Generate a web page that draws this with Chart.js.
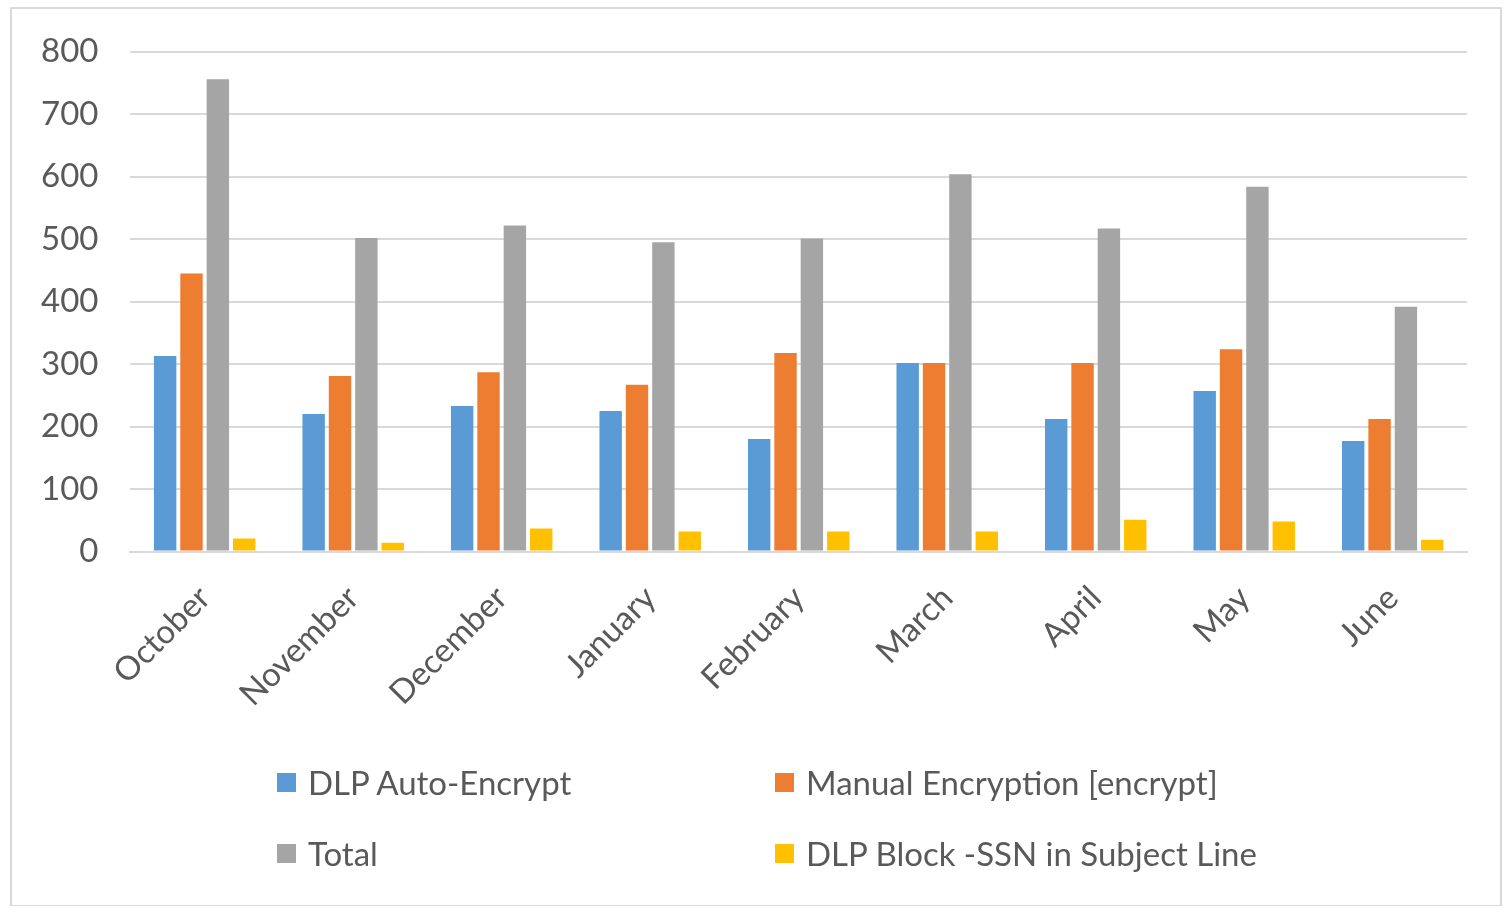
<!DOCTYPE html>
<html>
<head>
<meta charset="utf-8">
<script src="https://cdn.jsdelivr.net/npm/chart.js@4/dist/chart.umd.min.js"></script>
<style>
  html, body { margin: 0; padding: 0; background: #fff; }
  body { width: 1505px; height: 906px; position: relative; overflow: hidden; font-family: Lato, "Open Sans", sans-serif; }
  #frame { position: absolute; left: 10px; top: 7px; width: 1492px; height: 900px; border: 2px solid #d9d9d9; box-sizing: border-box; }
  #wrap { position: absolute; left: 0; top: 0; width: 1505px; height: 906px; }
  #legend { position: absolute; left: 0; top: 0; width: 1505px; height: 906px; pointer-events: none; }
  .item { position: absolute; display: flex; align-items: center; font-size: 33px; color: #595959; white-space: nowrap; line-height: 1; }
  .sw { width: 19px; height: 19px; margin-right: 12px; display: inline-block; }
</style>
</head>
<body>
<div id="frame"></div>
<div id="wrap"><canvas id="c" width="1505" height="906"></canvas></div>
<div id="legend"></div>
<script>
const categories = ["October","November","December","January","February","March","April","May","June"];
const dlpAutoEncrypt = [313, 220, 233, 225, 180, 302, 212, 257, 177];
const manualEncryption = [445, 281, 287, 267, 318, 302, 302, 324, 212];
const total = [756, 502, 522, 495, 501, 604, 517, 584, 392];
const dlpBlockSSN = [21, 14, 37, 32, 32, 32, 51, 48, 19];
const seriesNames = ["DLP Auto-Encrypt", "Manual Encryption [encrypt]", "Total", "DLP Block -SSN in Subject Line"];
const seriesColors = ["#5B9BD5", "#ED7D31", "#A5A5A5", "#FFC000"];
const yTicks = [0, 100, 200, 300, 400, 500, 600, 700, 800];

const seriesData = [dlpAutoEncrypt, manualEncryption, total, dlpBlockSSN];

const ctx = document.getElementById('c').getContext('2d');
new Chart(ctx, {
  type: 'bar',
  data: {
    labels: categories,
    datasets: seriesData.map((d, i) => ({
      label: seriesNames[i],
      data: d,
      backgroundColor: seriesColors[i],
      borderWidth: 0,
      categoryPercentage: 0.71,
      barPercentage: 0.85
    }))
  },
  options: {
    responsive: false,
    animation: false,
    devicePixelRatio: 1,
    layout: { padding: { left: 9, top: 40, right: 38, bottom: 165 } },
    plugins: { legend: { display: false }, tooltip: { enabled: false }, title: { display: false } },
    scales: {
      x: {
        grid: { display: false, drawTicks: false },
        border: { display: true, color: '#d9d9d9', width: 2 },
        afterFit: (scale) => { scale.paddingLeft = 0; scale.paddingRight = 0; },
        ticks: {
          color: '#595959',
          font: { family: 'Lato', size: 33 },
          minRotation: 45, maxRotation: 45,
          padding: 27,
          autoSkip: false
        }
      },
      y: {
        min: 0, max: 800,
        afterBuildTicks: (axis) => { axis.ticks = yTicks.map(v => ({ value: v })); },
        grid: { color: '#d9d9d9', lineWidth: 2, drawTicks: false },
        border: { display: false },
        ticks: {
          color: '#595959',
          font: { family: 'Lato', size: 33 },
          padding: 32
        }
      }
    }
  }
});

const legendPos = [[277, 782], [775, 782], [277, 853], [775, 853]];
const leg = document.getElementById('legend');
seriesNames.forEach((n, i) => {
  const el = document.createElement('div');
  el.className = 'item';
  el.style.left = legendPos[i][0] + 'px';
  el.style.top = (legendPos[i][1] - 18) + 'px';
  el.style.height = '36px';
  el.innerHTML = '<span class="sw" style="background:' + seriesColors[i] + '"></span><span>' + n + '</span>';
  leg.appendChild(el);
});
</script>
</body>
</html>
